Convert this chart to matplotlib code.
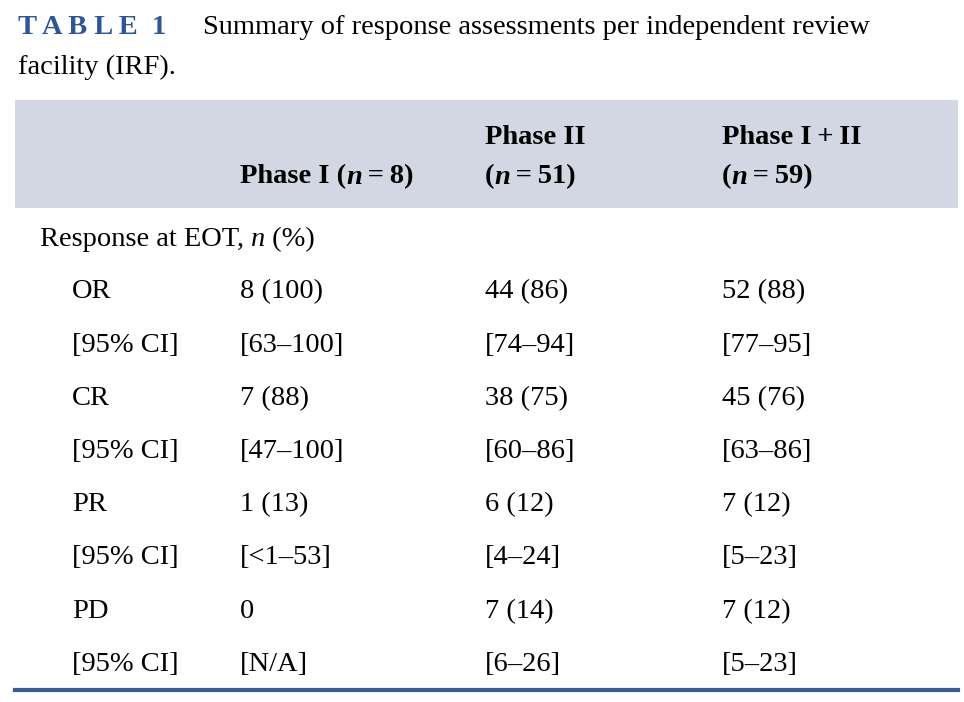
import matplotlib.pyplot as plt
from matplotlib.patches import Rectangle

W, H = 964, 702
row_labels = ["OR", "[95% CI]", "CR", "[95% CI]", "PR", "[95% CI]", "PD", "[95% CI]"]
phase1 = ["8 (100)", "[63\u2013100]", "7 (88)", "[47\u2013100]", "1 (13)", "[<1\u201353]", "0", "[N/A]"]
phase2 = ["44 (86)", "[74\u201394]", "38 (75)", "[60\u201386]", "6 (12)", "[4\u201324]", "7 (14)", "[6\u201326]"]
phase12 = ["52 (88)", "[77\u201395]", "45 (76)", "[63\u201386]", "7 (12)", "[5\u201323]", "7 (12)", "[5\u201323]"]

plt.rcParams['font.family'] = ['Liberation Serif', 'DejaVu Serif']
fig = plt.figure(figsize=(W / 100, H / 100), dpi=100)
fs = 20.5

def t(x, y, s, **kw):
    kw.setdefault('fontsize', fs)
    fig.text(x / W, 1 - y / H, s, va='center', ha='left', **kw)

# chain of text pieces (text, italic?) starting at x
def chain(x, y, parts, weight='normal'):
    fig.canvas.draw()
    cur = x
    for s, it in parts:
        txt = fig.text(cur / W, 1 - y / H, s, va='center', fontsize=fs, fontweight=weight,
                       style='italic' if it else 'normal')
        bb = txt.get_window_extent(renderer=fig.canvas.get_renderer())
        cur = bb.x1

blue = '#2f5597'
t(18, 27, "T A B L E  1", color=blue, fontweight='bold')
t(203, 27, "Summary of response assessments per independent review")
t(18, 67, "facility (IRF).")

fig.add_artist(Rectangle((15 / W, 1 - 208 / H), 943 / W, 108 / H,
                         transform=fig.transFigure, color='#d3d7e4', lw=0))
chain(240, 177, [("Phase I (", False), ("n", True), ("\u2009=\u20098)", False)], 'bold')
t(485, 137, "Phase II", fontweight='bold')
chain(485, 177, [("(", False), ("n", True), ("\u2009=\u200951)", False)], 'bold')
t(722, 137, "Phase I\u2009+\u2009II", fontweight='bold')
chain(722, 177, [("(", False), ("n", True), ("\u2009=\u200959)", False)], 'bold')

chain(40, 240, [("Response at EOT, ", False), ("n", True), (" (%)", False)])

for i, lab in enumerate(row_labels):
    y = 292 + i * 53.2
    t(72, y, lab)
    t(240, y, phase1[i])
    t(485, y, phase2[i])
    t(722, y, phase12[i])

fig.add_artist(plt.Line2D([15 / W, 958 / W], [1 - 690 / H] * 2, transform=fig.transFigure,
                          color='#3b5b92', lw=3))
fig.savefig('out.png', dpi=100)
